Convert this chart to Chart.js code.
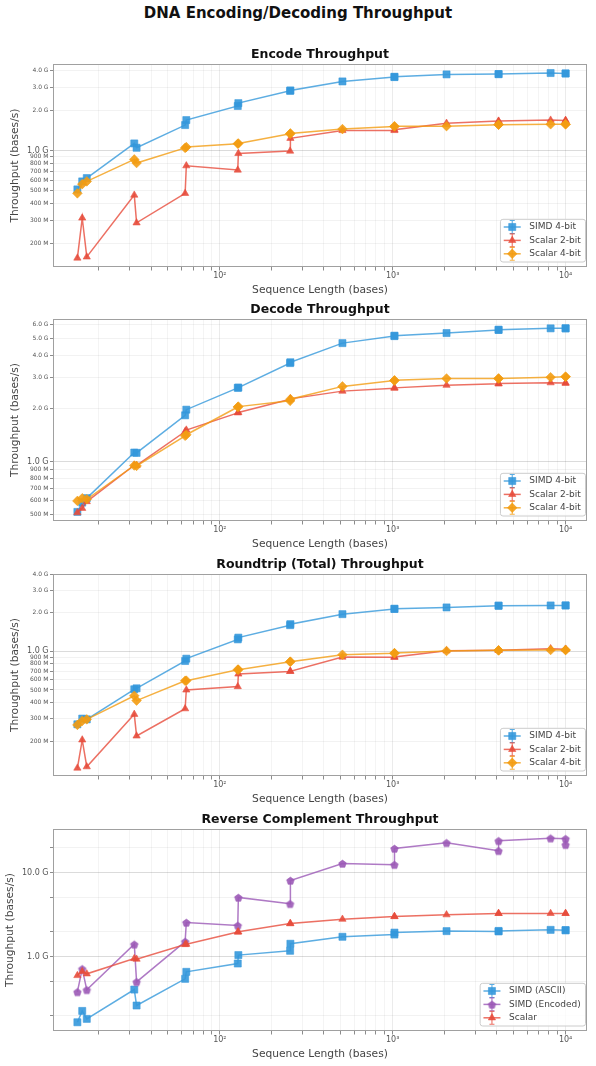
<!DOCTYPE html>
<html>
<head>
<meta charset="utf-8">
<script src="https://cdn.jsdelivr.net/npm/chart.js@4.4.1/dist/chart.umd.min.js"></script>
<style>
  body { margin: 0; background: #fff; }
  #pagina { position: relative; width: 596px; height: 1066px; overflow: hidden; }
  h1 { position: absolute; top: 0; left: 0; width: 596px; margin: 0; text-align: center;
       font: bold 15px "DejaVu Sans"; line-height: 26px; color: #111; }
  canvas { position: absolute; left: 0; }
</style>
</head>
<body>
<div id="pagina">
  <h1>DNA Encoding/Decoding Throughput</h1>
  <canvas id="cEnc"></canvas>
  <canvas id="cDec"></canvas>
  <canvas id="cRt"></canvas>
  <canvas id="cRc"></canvas>
</div>
<script>
// longitudes de secuencia (bases)
var longitudes = [15, 16, 17, 32, 33, 63, 64, 127, 128, 255, 256, 512, 1023, 1024, 2048, 4095, 4096, 8192, 9999, 10000];

// Encode (G bases/s)
var encSimd4   = [0.512, 0.588, 0.623, 1.135, 1.053, 1.56, 1.70, 2.17, 2.28, 2.82, 2.84, 3.32, 3.58, 3.60, 3.75, 3.77, 3.77, 3.84, 3.81, 3.81];
var encScalar2 = [0.156, 0.312, 0.159, 0.464, 0.287, 0.478, 0.771, 0.716, 0.955, 0.994, 1.24, 1.42, 1.42, 1.44, 1.61, 1.67, 1.67, 1.70, 1.69, 1.69];
var encScalar4 = [0.478, 0.561, 0.588, 0.861, 0.808, 1.05, 1.066, 1.13, 1.135, 1.34, 1.35, 1.455, 1.52, 1.53, 1.53, 1.57, 1.57, 1.58, 1.58, 1.58];

// Decode
var decSimd4   = [0.518, 0.585, 0.620, 1.125, 1.12, 1.83, 1.97, 2.62, 2.63, 3.62, 3.66, 4.70, 5.15, 5.18, 5.36, 5.58, 5.60, 5.70, 5.70, 5.70];
var decScalar2 = [0.513, 0.543, 0.593, 0.953, 0.95, 1.48, 1.51, 1.89, 1.90, 2.26, 2.27, 2.51, 2.61, 2.62, 2.71, 2.76, 2.77, 2.80, 2.79, 2.79];
var decScalar4 = [0.598, 0.619, 0.611, 0.950, 0.945, 1.40, 1.42, 2.04, 2.05, 2.21, 2.26, 2.67, 2.88, 2.89, 2.96, 2.96, 2.96, 3.01, 3.03, 3.03];

// Roundtrip
var rtSimd4   = [0.270, 0.299, 0.295, 0.506, 0.515, 0.841, 0.877, 1.24, 1.28, 1.60, 1.63, 1.95, 2.14, 2.15, 2.20, 2.27, 2.27, 2.28, 2.28, 2.28];
var rtScalar2 = [0.123, 0.204, 0.126, 0.323, 0.219, 0.357, 0.500, 0.531, 0.666, 0.698, 0.70, 0.903, 0.90, 0.903, 1.01, 1.02, 1.02, 1.05, 1.04, 1.04];
var rtScalar4 = [0.267, 0.287, 0.295, 0.451, 0.413, 0.59, 0.591, 0.72, 0.72, 0.83, 0.831, 0.942, 0.965, 0.97, 1.006, 1.018, 1.018, 1.024, 1.024, 1.024];

// Reverse complement
var rcSimdAscii = [0.164, 0.224, 0.180, 0.403, 0.260, 0.541, 0.656, 0.825, 1.04, 1.17, 1.42, 1.72, 1.83, 1.93, 2.01, 1.99, 2.02, 2.08, 2.06, 2.06];
var rcSimdEnc   = [0.378, 0.712, 0.400, 1.40, 0.498, 1.51, 2.55, 2.35, 5.07, 4.26, 8.09, 12.9, 12.5, 19.5, 22.8, 18.3, 24.1, 25.9, 25.5, 21.6];
var rcScalar    = [0.593, 0.662, 0.621, 0.946, 0.93, 1.39, 1.40, 1.96, 1.97, 2.47, 2.48, 2.79, 3.0, 3.01, 3.15, 3.27, 3.27, 3.27, 3.27, 3.27];

// marcas de los ejes
var ticksX = [20, 30, 40, 50, 60, 70, 80, 90, 100, 200, 300, 400, 500, 600, 700, 800, 900,
              1000, 2000, 3000, 4000, 5000, 6000, 7000, 8000, 9000, 10000];
var etiquetasX = { 100: '10²', 1000: '10³', 10000: '10⁴' };
var ticksEnc = [0.2, 0.3, 0.4, 0.5, 0.6, 0.7, 0.8, 0.9, 1, 2, 3, 4];
var ticksDec = [0.5, 0.6, 0.7, 0.8, 0.9, 1, 2, 3, 4, 5, 6];
var ticksRt  = [0.2, 0.3, 0.4, 0.5, 0.6, 0.7, 0.8, 0.9, 1, 2, 3, 4];
var ticksRc  = [0.2, 0.5, 1, 2, 5, 10, 20];
var etiqRc   = [1, 10];

var AZUL = '#3498db', ROJO = '#e74c3c', NARANJA = '#f39c12', MORADO = '#9b59b6';

Chart.defaults.font.family = 'DejaVu Sans';

function rgba(hex, a) {
  var n = parseInt(hex.slice(1), 16);
  return 'rgba(' + (n >> 16) + ',' + ((n >> 8) & 255) + ',' + (n & 255) + ',' + a + ')';
}

function esDecada(v) {
  var l = Math.log10(v);
  return Math.abs(l - Math.round(l)) < 1e-9;
}

function contiene(lista, v) {
  return lista.some(function(t) { return Math.abs(t - v) < 1e-9; });
}

function etiquetaY(v) {
  if (v >= 1) return v.toFixed(1) + ' G';
  return Math.round(v * 1000) + ' M';
}

// pentagono para SIMD (Encoded)
function pentagono(r, relleno, borde) {
  var c = document.createElement('canvas');
  var s = Math.ceil(2 * r + 3);
  c.width = s; c.height = s;
  var g = c.getContext('2d');
  g.beginPath();
  for (var k = 0; k < 5; k++) {
    var a = -Math.PI / 2 + k * 2 * Math.PI / 5;
    var px = s / 2 + r * Math.cos(a), py = s / 2 + 0.6 + r * Math.sin(a);
    if (k) g.lineTo(px, py); else g.moveTo(px, py);
  }
  g.closePath();
  g.fillStyle = relleno; g.fill();
  g.strokeStyle = borde; g.lineWidth = 1; g.stroke();
  return c;
}

function serie(label, valores, color, estilo, radio) {
  return {
    label: label,
    data: longitudes.map(function(x, i) { return { x: x, y: valores[i] }; }),
    borderColor: rgba(color, 0.8),
    backgroundColor: rgba(color, 0.9),
    pointBackgroundColor: rgba(color, 0.9),
    pointBorderColor: rgba(color, 0.55),
    pointBorderWidth: 1,
    pointStyle: estilo,
    pointRadius: radio,
    pointHoverRadius: radio,
    borderWidth: 1.5,
    tension: 0,
    fill: false
  };
}

function dibujarMarcador(ctx, ds, x, y) {
  var e = ds.pointStyle, r = ds.pointRadius;
  if (typeof e !== 'string') { ctx.drawImage(e, x - e.width / 2, y - e.height / 2); return; }
  ctx.beginPath();
  if (e === 'rect') {
    var s = r * Math.SQRT1_2;
    ctx.rect(x - s, y - s, 2 * s, 2 * s);
  } else if (e === 'rectRot') {
    ctx.moveTo(x - r, y); ctx.lineTo(x, y - r); ctx.lineTo(x + r, y); ctx.lineTo(x, y + r); ctx.closePath();
  } else {
    for (var k = 0; k < 3; k++) {
      var a = k * 2 * Math.PI / 3;
      var px = x + Math.sin(a) * r, py = y - Math.cos(a) * r;
      if (k) ctx.lineTo(px, py); else ctx.moveTo(px, py);
    }
    ctx.closePath();
  }
  ctx.fillStyle = ds.pointBackgroundColor; ctx.fill();
  ctx.strokeStyle = ds.pointBorderColor; ctx.lineWidth = ds.pointBorderWidth; ctx.stroke();
}

// marco de los ejes y leyenda dentro del area
var marcoYLeyenda = {
  id: 'marcoYLeyenda',
  afterDatasetsDraw: function(chart) {
    var ctx = chart.ctx, a = chart.chartArea;
    ctx.save();
    ctx.strokeStyle = '#a0a0a0';
    ctx.lineWidth = 1;
    ctx.strokeRect(a.left + 0.5, a.top + 0.5, a.right - a.left - 1, a.bottom - a.top - 1);

    var ds = chart.data.datasets;
    ctx.font = '9px "DejaVu Sans"';
    var anchoTexto = 0;
    ds.forEach(function(d) { anchoTexto = Math.max(anchoTexto, ctx.measureText(d.label).width); });
    var w = 3.3 + 17 + 8.6 + anchoTexto + 4.7, h = 42.7;
    var x0 = a.right - 1.5 - w, y0 = a.bottom - 5 - h;
    ctx.beginPath();
    ctx.roundRect(x0, y0, w, h, 2.5);
    ctx.fillStyle = 'rgba(255,255,255,0.8)';
    ctx.fill();
    ctx.strokeStyle = '#cccccc';
    ctx.stroke();
    ds.forEach(function(d, i) {
      var y = y0 + 7.7 + i * 13.4;
      var xl = x0 + 3.3, xm = xl + 8.5;
      ctx.strokeStyle = d.borderColor;
      ctx.lineWidth = 1.5;
      ctx.beginPath(); ctx.moveTo(xl, y); ctx.lineTo(xl + 17, y); ctx.stroke();
      ctx.lineWidth = 1.1;
      ctx.beginPath();
      ctx.moveTo(xm, y - 6.5); ctx.lineTo(xm, y + 6.5);
      ctx.moveTo(xm - 2.5, y - 6.5); ctx.lineTo(xm + 2.5, y - 6.5);
      ctx.moveTo(xm - 2.5, y + 6.5); ctx.lineTo(xm + 2.5, y + 6.5);
      ctx.stroke();
      dibujarMarcador(ctx, d, xm, y);
      ctx.fillStyle = '#444';
      ctx.textBaseline = 'middle';
      ctx.textAlign = 'left';
      ctx.fillText(d.label, xl + 17 + 8.6, y);
    });
    ctx.restore();
  }
};

function crearPanel(id, p) {
  var c = document.getElementById(id);
  c.width = 596;
  c.height = p.abajo - p.arriba + 57;
  c.style.top = (p.arriba - 25) + 'px';
  p.series.forEach(function(s, i) { s.order = p.series.length - i; });

  new Chart(c.getContext('2d'), {
    type: 'line',
    data: { datasets: p.series },
    options: {
      responsive: false,
      animation: false,
      layout: { padding: { left: 0, right: 9, top: 0, bottom: 0 } },
      plugins: {
        legend: { display: false },
        tooltip: { enabled: false },
        title: {
          display: true, text: p.titulo, fullSize: false, color: '#111',
          font: { size: 12.5, weight: 'bold' }, padding: { top: 8, bottom: 2 }
        }
      },
      scales: {
        x: {
          type: 'logarithmic', min: 10.84, max: 13300,
          afterBuildTicks: function(s) { s.ticks = ticksX.map(function(v) { return { value: v }; }); },
          afterFit: function(s) { s.height = 32; },
          ticks: {
            autoSkip: false, maxRotation: 0, padding: 0.5, color: '#555',
            font: { size: 8 },
            callback: function(v) { return etiquetasX[v] || ''; }
          },
          grid: {
            color: function(ctx) { return ctx.tick && esDecada(ctx.tick.value) ? 'rgba(0,0,0,0.08)' : 'rgba(0,0,0,0.045)'; },
            tickColor: 'rgba(0,0,0,0.45)', tickLength: 3.5, lineWidth: 1
          },
          border: { display: false },
          title: {
            display: true, text: 'Sequence Length (bases)', color: '#444',
            font: { size: 10.7 }, padding: { top: 0, bottom: 2.6 }
          }
        },
        y: {
          type: 'logarithmic', min: p.yMin, max: p.yMax,
          afterBuildTicks: function(s) { s.ticks = p.yTicks.map(function(v) { return { value: v }; }); },
          afterFit: function(s) { s.width = 53; },
          ticks: {
            autoSkip: false, padding: 1.5, color: '#555',
            font: function(ctx) { return { size: ctx.tick && esDecada(ctx.tick.value) ? 8 : 6 }; },
            callback: function(v) { return contiene(p.yEtiq, v) ? etiquetaY(v) : ''; }
          },
          grid: {
            color: function(ctx) { return ctx.tick && esDecada(ctx.tick.value) ? 'rgba(0,0,0,0.14)' : 'rgba(0,0,0,0.05)'; },
            tickColor: 'rgba(0,0,0,0.45)', tickLength: 3, lineWidth: 1
          },
          border: { display: false },
          title: {
            display: true, text: 'Throughput (bases/s)', color: '#444',
            font: { size: 10.7 }, padding: { top: p.padY, bottom: 0 }
          }
        }
      }
    },
    plugins: [marcoYLeyenda]
  });
}

crearPanel('cEnc', {
  titulo: 'Encode Throughput', arriba: 64, abajo: 267,
  series: [serie('SIMD 4-bit', encSimd4, AZUL, 'rect', 5),
           serie('Scalar 2-bit', encScalar2, ROJO, 'triangle', 4.2),
           serie('Scalar 4-bit', encScalar4, NARANJA, 'rectRot', 4.8)],
  yMin: 0.1336, yMax: 4.49, yTicks: ticksEnc, yEtiq: ticksEnc, padY: 9.1
});

crearPanel('cDec', {
  titulo: 'Decode Throughput', arriba: 319, abajo: 521,
  series: [serie('SIMD 4-bit', decSimd4, AZUL, 'rect', 5),
           serie('Scalar 2-bit', decScalar2, ROJO, 'triangle', 4.2),
           serie('Scalar 4-bit', decScalar4, NARANJA, 'rectRot', 4.8)],
  yMin: 0.460, yMax: 6.44, yTicks: ticksDec, yEtiq: ticksDec, padY: 9.1
});

crearPanel('cRt', {
  titulo: 'Roundtrip (Total) Throughput', arriba: 574, abajo: 776,
  series: [serie('SIMD 4-bit', rtSimd4, AZUL, 'rect', 5),
           serie('Scalar 2-bit', rtScalar2, ROJO, 'triangle', 4.2),
           serie('Scalar 4-bit', rtScalar4, NARANJA, 'rectRot', 4.8)],
  yMin: 0.1067, yMax: 4.01, yTicks: ticksRt, yEtiq: ticksRt, padY: 9.1
});

crearPanel('cRc', {
  titulo: 'Reverse Complement Throughput', arriba: 829, abajo: 1031,
  series: [serie('SIMD (ASCII)', rcSimdAscii, AZUL, 'rect', 5),
           serie('SIMD (Encoded)', rcSimdEnc, MORADO, pentagono(4, rgba(MORADO, 0.9), rgba(MORADO, 0.55)), 4),
           serie('Scalar', rcScalar, ROJO, 'triangle', 4.2)],
  yMin: 0.129, yMax: 33.3, yTicks: ticksRc, yEtiq: etiqRc, padY: 4.3
});
</script>
</body>
</html>
